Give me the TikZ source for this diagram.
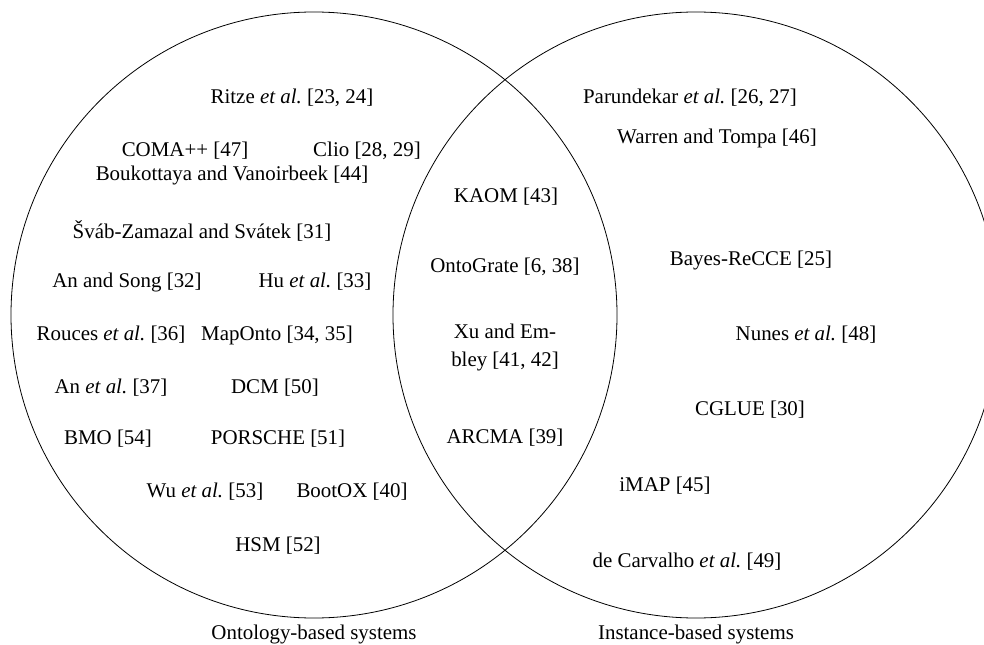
\documentclass[tikz,border=0pt]{standalone}
\usepackage{fontspec}
\setmainfont{Liberation Serif}
\frenchspacing
\newcommand{\etal}{{\itshape et al.}}
\begin{document}
\begin{tikzpicture}[x=1bp,y=-1bp,
  lbl/.style={anchor=base,inner sep=0pt,font=\fontsize{21}{28}\selectfont},
  setcircle/.style={draw=black,line width=0.8bp}]
\useasboundingbox (0,0) rectangle (984,645);
\clip (0,0) rectangle (984,645);
\draw[setcircle] (314,315) circle[radius=303bp];
\draw[setcircle] (696,315) circle[radius=303bp];
% left only
\node[lbl] (ritze) at (292,104) {Ritze \etal\ [23, 24]};
\node[lbl] (coma) at (185,157) {COMA++ [47]};
\node[lbl] (clio) at (367,157) {Clio [28, 29]};
\node[lbl] (bouk) at (232,181) {Boukottaya and Vanoirbeek [44]};
\node[lbl] (svab) at (202,239) {Šváb-Zamazal and Svátek [31]};
\node[lbl] (ansong) at (127,288) {An and Song [32]};
\node[lbl] (hu) at (315,288) {Hu \etal\ [33]};
\node[lbl] (rouces) at (111,340) {Rouces \etal\ [36]};
\node[lbl] (maponto) at (277,340) {MapOnto [34, 35]};
\node[lbl] (anetal) at (111,393) {An \etal\ [37]};
\node[lbl] (dcm) at (275,393) {DCM [50]};
\node[lbl] (bmo) at (108,444) {BMO [54]};
\node[lbl] (porsche) at (278,444) {PORSCHE [51]};
\node[lbl] (wu) at (205,497) {Wu \etal\ [53]};
\node[lbl] (bootox) at (352,497) {BootOX [40]};
\node[lbl] (hsm) at (278,551) {HSM [52]};
% intersection
\node[lbl] (kaom) at (506,203) {KAOM [43]};
\node[lbl] (ontograte) at (505,273) {OntoGrate [6, 38]};
\node[lbl,align=center] (xu) at (505,366) {Xu and Em-\\bley [41, 42]};
\node[lbl] (arcma) at (505,443) {ARCMA [39]};
% right only
\node[lbl] (parund) at (690,104) {Parundekar \etal\ [26, 27]};
\node[lbl] (warren) at (717,144) {Warren and Tompa [46]};
\node[lbl] (bayes) at (751,266) {Bayes-ReCCE [25]};
\node[lbl] (nunes) at (806,340) {Nunes \etal\ [48]};
\node[lbl] (cglue) at (750,415) {CGLUE [30]};
\node[lbl] (imap) at (665,491) {iMAP [45]};
\node[lbl] (carvalho) at (687,567) {de Carvalho \etal\ [49]};
% set labels
\node[lbl] (ontology) at (314,639) {Ontology-based systems};
\node[lbl] (instance) at (696,639) {Instance-based systems};
\end{tikzpicture}
\end{document}
